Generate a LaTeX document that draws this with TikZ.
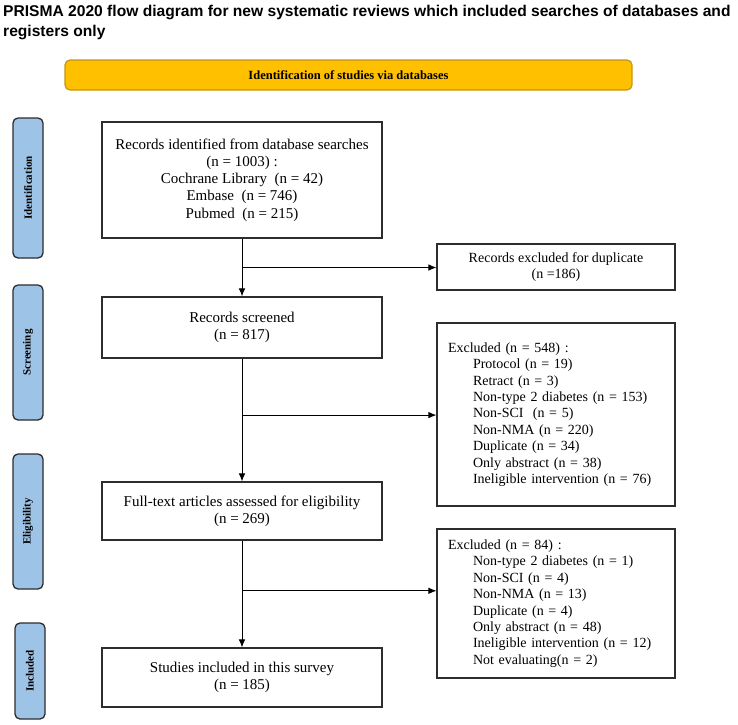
\documentclass[tikz,border=0pt]{standalone}
\usepackage{fontspec}
\setmainfont{Liberation Serif}
\newfontfamily\titlefont{Liberation Sans}
\usetikzlibrary{arrows.meta,positioning,calc}
\definecolor{tabblue}{RGB}{157,195,230}
\definecolor{bannergold}{RGB}{255,192,0}
\definecolor{bannerline}{RGB}{196,150,20}
\definecolor{boxline}{RGB}{45,45,45}

\tikzset{
  box/.style={draw=boxline, line width=1.1pt, align=center, inner sep=0pt,
    font=\fontsize{15}{17.3}\selectfont},
  exclbox/.style={box, align=left, text width=216pt,
    font=\fontsize{14}{16.4}\selectfont},
  phase/.style={draw=boxline, fill=tabblue, rounded corners=5pt, line width=1.3pt,
    rotate=90, inner sep=0pt, font=\bfseries\fontsize{11}{13}\selectfont},
  flow/.style={-{Latex[length=8pt,width=6.5pt]}, line width=0.9pt},
}

\begin{document}
\begin{tikzpicture}[x=1pt, y=-1pt]
    \useasboundingbox (0,0) rectangle (738,724);

    % title
    \node[anchor=base west, align=left, inner sep=0pt,
      font=\titlefont\bfseries\fontsize{15.6}{20}\selectfont] (title) at (3,36)
      {PRISMA 2020 flow diagram for new systematic reviews which included searches of databases and\\registers only};

    % banner
    \node[draw=bannerline, fill=bannergold, rounded corners=5pt, line width=1.2pt,
      minimum width=567pt, minimum height=30pt, inner sep=0pt,
      font=\bfseries\fontsize{12.5}{14}\selectfont] (banner) at (348.5,75)
      {Identification of studies via databases};

    % phase tabs
    \node[phase, minimum width=140pt, minimum height=30pt] (tabid) at (28,188) {Identification};
    \node[phase, minimum width=135pt, minimum height=30pt] (tabscr) at (28,352.5) {Screening};
    \node[phase, minimum width=135pt, minimum height=30pt] (tabel) at (28,521.5) {Eligibility};
    \node[phase, minimum width=96pt, minimum height=30pt] (tabinc) at (30,671) {Included};

    % main column
    \node[box, minimum width=280pt, minimum height=116pt] (ident) at (242,180)
      {Records identified from database searches\\(n = 1003) :\\Cochrane Library\ \ (n = 42)\\Embase\ \ (n = 746)\\Pubmed\ \ (n = 215)};
    \node[box, minimum width=280pt, minimum height=61pt] (screen) at (242,327.5)
      {Records screened\\(n = 817)};
    \node[box, minimum width=280pt, minimum height=58pt] (full) at (242,511)
      {Full-text articles assessed for eligibility\\(n = 269)};
    \node[box, minimum width=280pt, minimum height=59pt] (incl) at (242,677.5)
      {Studies included in this survey\\(n = 185)};

    % excluded column
    \node[box, minimum width=238pt, minimum height=46pt, font=\fontsize{14}{16.4}\selectfont] (dup) at (556,267)
      {Records excluded for duplicate\\(n =186)};
    \node[exclbox, minimum width=238pt, minimum height=183pt] (excla) at (556,414.5)
      {Excluded (n = 548) :\\
       \hspace*{25pt}Protocol (n = 19)\\
       \hspace*{25pt}Retract (n = 3)\\
       \hspace*{25pt}Non-type 2 diabetes (n = 153)\\
       \hspace*{25pt}Non-SCI\ \ (n = 5)\\
       \hspace*{25pt}Non-NMA (n = 220)\\
       \hspace*{25pt}Duplicate (n = 34)\\
       \hspace*{25pt}Only abstract (n = 38)\\
       \hspace*{25pt}Ineligible intervention (n = 76)};
    \node[exclbox, minimum width=238pt, minimum height=149pt] (exclb) at (556,603.5)
      {Excluded (n = 84) :\\
       \hspace*{25pt}Non-type 2 diabetes (n = 1)\\
       \hspace*{25pt}Non-SCI (n = 4)\\
       \hspace*{25pt}Non-NMA (n = 13)\\
       \hspace*{25pt}Duplicate (n = 4)\\
       \hspace*{25pt}Only abstract (n = 48)\\
       \hspace*{25pt}Ineligible intervention (n = 12)\\
       \hspace*{25pt}Not evaluating(n = 2)};

    % arrows
    \coordinate (m1) at ($(ident.south)!0.5!(screen.north)$);
    \coordinate (m2) at ($(screen.south)!0.46!(full.north)$);
    \coordinate (m3) at ($(full.south)!0.47!(incl.north)$);
    \draw[flow] (ident.south) -- (screen.north);
    \draw[flow] (screen.south) -- (full.north);
    \draw[flow] (full.south) -- (incl.north);
    \draw[flow] (m1) -- (m1 -| dup.west);
    \draw[flow] (m2) -- (m2 -| excla.west);
    \draw[flow] (m3) -- (m3 -| exclb.west);
\end{tikzpicture}
\end{document}
